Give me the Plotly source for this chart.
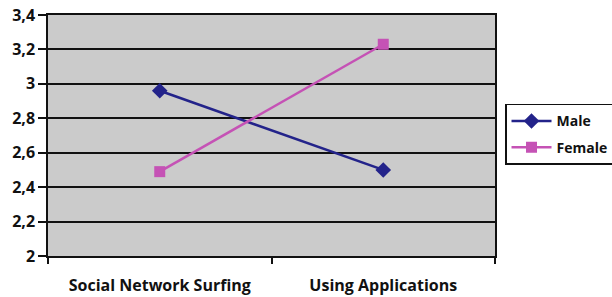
import plotly.graph_objects as go

categories = ["Social Network Surfing", "Using Applications"]
male = [2.96, 2.50]
female = [2.49, 3.23]
y_ticks = [2.0, 2.2, 2.4, 2.6, 2.8, 3.0, 3.2, 3.4]
y_tick_labels = ["2", "2,2", "2,4", "2,6", "2,8", "3", "3,2", "3,4"]

FONT = "Open Sans"
FS = 16

fig = go.Figure()
fig.add_trace(go.Scatter(
    x=categories, y=male, name="Male", mode="lines+markers", legendgroup="m",
    line=dict(color="#23238a", width=2.5),
    marker=dict(symbol="diamond", size=12, color="#23238a"),
))
fig.add_trace(go.Scatter(
    x=categories, y=female, name="Female", mode="lines+markers", legendgroup="f",
    line=dict(color="#c552b5", width=2.5),
    marker=dict(symbol="square", size=11, color="#c552b5"),
))

fig.update_layout(
    width=612, height=297,
    margin=dict(l=48, r=117, t=15, b=41, autoexpand=False),
    paper_bgcolor="#ffffff",
    plot_bgcolor="#cbcbcb",
    font=dict(family=FONT, size=FS, color="#111111", weight="bold"),
    showlegend=True,
    legend=dict(
        x=1.0224, y=0.631, xanchor="left", yanchor="top",
        bordercolor="#111111", borderwidth=1.5,
        font=dict(family=FONT, size=14, color="#111111", weight="bold"),
        bgcolor="#ffffff",
        tracegroupgap=5, itemwidth=40,
    ),
)
fig.update_xaxes(
    type="category", range=[-0.5, 1.5], automargin=False,
    showline=True, linecolor="#111111", linewidth=1.5, mirror=True,
    ticks="outside", tickson="boundaries", ticklen=6, tickwidth=1.5, tickcolor="#111111",
    showgrid=False, ticklabelstandoff=14,
    tickfont=dict(family=FONT, size=FS, color="#111111", weight="bold"),
)
fig.update_yaxes(
    range=[2, 3.4], tickvals=y_ticks, ticktext=y_tick_labels, automargin=False,
    ticklabeloverflow="allow",
    showline=True, linecolor="#111111", linewidth=1.5, mirror=True,
    ticks="outside", ticklen=8, tickwidth=1.5, tickcolor="#111111",
    showgrid=True, gridcolor="#111111", gridwidth=1.5,
    zeroline=False,
    tickfont=dict(family=FONT, size=FS, color="#111111", weight="bold"),
)

fig.write_html("out.html", config={"displayModeBar": False},
               post_script="document.body.style.margin='0';")
